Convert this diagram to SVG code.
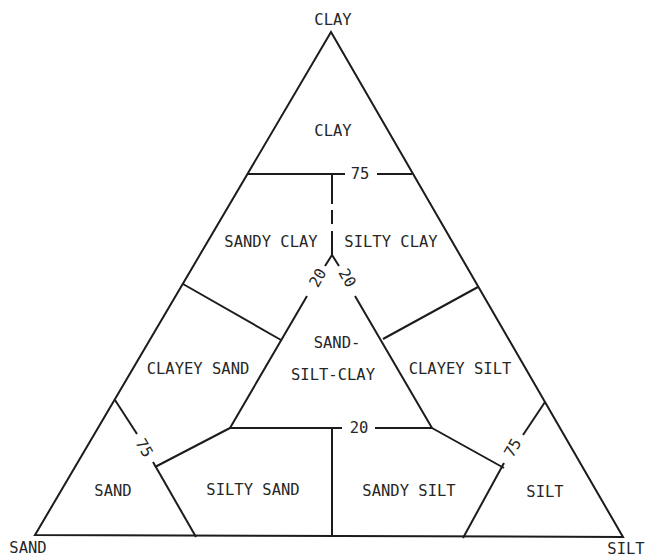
<svg xmlns="http://www.w3.org/2000/svg" width="647" height="558" viewBox="0 0 647 558">
  <style>
    .ln { fill: none; stroke: #1c1c1c; stroke-width: 2; stroke-linecap: butt; stroke-linejoin: miter; }
    .lb { font-family: "DejaVu Sans Mono", "Liberation Mono", monospace; font-size: 15.5px; fill: #262626; text-anchor: middle; }
    .rt { dominant-baseline: central; }
  </style>
  <rect width="647" height="558" fill="#ffffff"/>

  <!-- outer ternary triangle: CLAY apex, SAND and SILT base corners -->
  <g id="outline">
    <polygon class="ln" points="331,32 35,535 623,537"/>
  </g>

  <!-- class boundaries -->
  <g id="boundaries">
    <!-- 75% clay line, broken for its label -->
    <polyline class="ln" points="248,174 345,174"/>
    <polyline class="ln" points="377,174 412,174"/>
    <!-- sandy clay / silty clay divide, solid then dashed -->
    <polyline class="ln" points="332,174 332,204"/>
    <polyline class="ln" points="332,210 332,224"/>
    <polyline class="ln" points="332,231 332,256"/>
    <!-- fork opening into the central triangle -->
    <polyline class="ln" points="325,266 332,255 339,266"/>
    <!-- central sand-silt-clay triangle sides -->
    <polyline class="ln" points="307,296 230,428 342,428"/>
    <polyline class="ln" points="355,296 432,428 375,428"/>
    <!-- silty sand / sandy silt divide -->
    <polyline class="ln" points="332,428 332,536"/>
    <!-- clayey sand and clayey silt boundaries -->
    <polyline class="ln" points="183,284 281,340"/>
    <polyline class="ln" points="383,339 478,287"/>
    <!-- silty sand and sandy silt upper boundaries -->
    <polyline class="ln" points="230,428 155,467"/>
    <polyline class="ln" points="432,428 504,468"/>
    <!-- 75% sand triangle -->
    <polyline class="ln" points="115,400 137,434"/>
    <polyline class="ln" points="153,462 196,537"/>
    <!-- 75% silt triangle -->
    <polyline class="ln" points="545,402 523,435"/>
    <polyline class="ln" points="504,463 463,538"/>
  </g>

  <!-- end-member and class names -->
  <g id="labels">
    <text class="lb" x="333" y="25">CLAY</text>
    <text class="lb" x="333" y="136">CLAY</text>
    <text class="lb" x="271" y="247">SANDY CLAY</text>
    <text class="lb" x="391" y="247">SILTY CLAY</text>
    <text class="lb" x="198" y="374">CLAYEY SAND</text>
    <text class="lb" x="337" y="348">SAND-</text>
    <text class="lb" x="333" y="380">SILT-CLAY</text>
    <text class="lb" x="460" y="374">CLAYEY SILT</text>
    <text class="lb" x="113" y="496">SAND</text>
    <text class="lb" x="253" y="495">SILTY SAND</text>
    <text class="lb" x="409" y="496">SANDY SILT</text>
    <text class="lb" x="545" y="497">SILT</text>
    <text class="lb" x="28" y="553">SAND</text>
    <text class="lb" x="626" y="554">SILT</text>
  </g>

  <!-- percentage marks on the boundaries -->
  <g id="percentages">
    <text class="lb rt" x="360" y="174">75</text>
    <text class="lb rt" x="359" y="428">20</text>
    <text class="lb rt" transform="translate(318,278) rotate(-60)">20</text>
    <text class="lb rt" transform="translate(347,278) rotate(60)">20</text>
    <text class="lb rt" transform="translate(144,448) rotate(60)">75</text>
    <text class="lb rt" transform="translate(513,448) rotate(-60)">75</text>
  </g>
</svg>
